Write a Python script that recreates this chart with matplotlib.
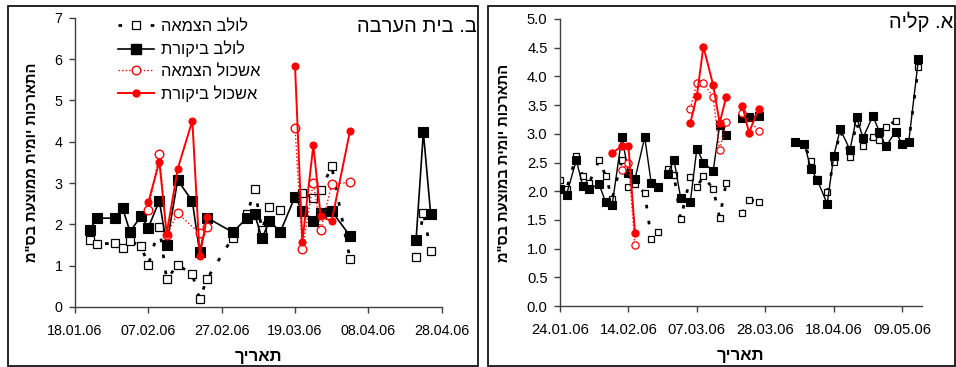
import matplotlib
matplotlib.use("Agg")
import matplotlib.pyplot as plt
import matplotlib.dates as mdates
from matplotlib.lines import Line2D
from matplotlib.patches import Rectangle
import pandas as pd

plt.rcParams['font.family'] = ['Liberation Sans', 'DejaVu Sans']

# ---------------- data: left panel (Beit HaArava) ----------------
L_lulav_dry_dates = ["2006-01-22", "2006-01-24", "2006-01-29", "2006-01-31", "2006-02-02", "2006-02-05",
                     "2006-02-07", "2006-02-10", "2006-02-12", "2006-02-15", "2006-02-19", "2006-02-21",
                     "2006-02-23", "2006-03-02", "2006-03-06", "2006-03-08", "2006-03-10", "2006-03-12",
                     "2006-03-15", "2006-03-21", "2006-03-24", "2006-03-26", "2006-03-29", "2006-04-03",
                     None, "2006-04-21", "2006-04-23", "2006-04-25"]
L_lulav_dry = [1.61, 1.53, 1.54, 1.43, 1.60, 1.47, 1.02, 1.94, 0.67, 1.02, 0.79, 0.19,
               0.68, 1.68, 2.25, 2.86, 1.86, 2.43, 2.35, 2.77, 2.63, 2.82, 3.40, 1.16,
               None, 1.22, 2.28, 1.36]

L_lulav_ctl_dates = ["2006-01-22", "2006-01-24", "2006-01-29", "2006-01-31", "2006-02-02", "2006-02-05",
                     "2006-02-07", "2006-02-10", "2006-02-12", "2006-02-15", "2006-02-19", "2006-02-21",
                     "2006-02-23", "2006-03-02", "2006-03-06", "2006-03-08", "2006-03-10", "2006-03-12",
                     "2006-03-15", "2006-03-19", "2006-03-21", "2006-03-24", "2006-03-26", "2006-03-29",
                     "2006-04-03", None, "2006-04-21", "2006-04-23", "2006-04-25"]
L_lulav_ctl = [1.86, 2.15, 2.15, 2.39, 1.82, 2.20, 1.92, 2.57, 1.50, 3.07, 2.56, 1.32,
               2.16, 1.81, 2.16, 2.24, 1.66, 2.08, 1.82, 2.67, 2.32, 2.09, 2.27, 2.32,
               1.72, None, 1.61, 4.23, 2.24]

L_ashkol_dry_dates = ["2006-02-07", "2006-02-10", "2006-02-12", "2006-02-15", "2006-02-21", "2006-02-23",
                      None, "2006-03-19", "2006-03-21", "2006-03-24", "2006-03-26", "2006-03-29", "2006-04-03"]
L_ashkol_dry = [2.35, 3.70, 1.74, 2.27, 1.78, 1.93,
                None, 4.34, 1.40, 3.01, 1.86, 2.97, 3.02]

L_ashkol_ctl_dates = ["2006-02-07", "2006-02-10", "2006-02-12", "2006-02-15", "2006-02-19", "2006-02-21",
                      "2006-02-23", None, "2006-03-19", "2006-03-21", "2006-03-24", "2006-03-26",
                      "2006-03-29", "2006-04-03"]
L_ashkol_ctl = [2.53, 3.52, 1.77, 3.34, 4.51, 1.24,
                2.17, None, 5.84, 1.58, 3.92, 2.19,
                2.08, 4.26]

L_ticks = ["2006-01-18", "2006-02-07", "2006-02-27", "2006-03-19", "2006-04-08", "2006-04-28"]

# ---------------- data: right panel (Kalia) ----------------
R_lulav_dry_dates = ["2006-01-24", "2006-01-26", "2006-01-29", "2006-01-31", "2006-02-02", "2006-02-05",
                     "2006-02-07", "2006-02-09", "2006-02-12", "2006-02-14", "2006-02-16", "2006-02-19",
                     "2006-02-21", "2006-02-23", None, "2006-02-26", "2006-02-28", "2006-03-02",
                     "2006-03-05", "2006-03-07", "2006-03-09", "2006-03-12", "2006-03-14", "2006-03-16",
                     None, "2006-03-21", "2006-03-23", "2006-03-26", None,
                     "2006-04-06", "2006-04-09", "2006-04-11", "2006-04-13", "2006-04-16", "2006-04-18",
                     "2006-04-20", "2006-04-23", "2006-04-25", "2006-04-27", "2006-04-30", "2006-05-02",
                     "2006-05-04", "2006-05-07", "2006-05-09", "2006-05-11", "2006-05-14"]
R_lulav_dry = [2.20, 2.03, 2.62, 2.26, 2.15, 2.54, 2.27, 1.87, 2.54, 2.08, 2.12, 1.97,
               1.17, 1.29, None, 2.38, 2.28, 1.51, 2.24, 2.07, 2.26, 2.04, 1.54, 2.15,
               None, 1.62, 1.85, 1.82, None,
               2.85, 2.82, 2.53, 2.22, 1.98, 2.51, 3.06, 2.60, 3.21, 2.78, 2.94, 2.89,
               3.11, 3.23, 2.82, 2.85, 4.17]

R_lulav_ctl_dates = R_lulav_dry_dates
R_lulav_ctl = [2.04, 1.94, 2.54, 2.09, 2.04, 2.12, 1.81, 1.76, 2.95, 2.32, 2.21, 2.94,
               2.14, 2.07, None, 2.30, 2.54, 1.89, 1.82, 2.74, 2.50, 2.35, 3.15, 2.98,
               None, 3.28, 3.29, 3.31, None,
               2.85, 2.82, 2.39, 2.19, 1.78, 2.61, 3.08, 2.72, 3.29, 2.93, 3.31, 3.04,
               2.78, 3.04, 2.82, 2.85, 4.30]

R_ashkol_dry_dates = ["2006-02-12", "2006-02-14", "2006-02-16", None,
                      "2006-03-05", "2006-03-07", "2006-03-09", "2006-03-12", "2006-03-14", "2006-03-16",
                      None, "2006-03-21", "2006-03-26"]
R_ashkol_dry = [2.37, 2.50, 1.06, None, 3.44, 3.88, 3.88, 3.64, 2.71, 3.20, None, 3.37, 3.05]

R_ashkol_ctl_dates = ["2006-02-09", "2006-02-12", "2006-02-14", "2006-02-16", None,
                      "2006-03-05", "2006-03-07", "2006-03-09", "2006-03-12", "2006-03-14", "2006-03-16",
                      None, "2006-03-21", "2006-03-23", "2006-03-26"]
R_ashkol_ctl = [2.66, 2.79, 2.79, 1.28, None, 3.19, 3.66, 4.52, 3.85, 3.19, 3.64, None, 3.48, 3.02, 3.44]

R_ticks = ["2006-01-24", "2006-02-14", "2006-03-07", "2006-03-28", "2006-04-18", "2006-05-09"]

# Hebrew texts (logical order)
series_names = ["לולב הצמאה", "לולב ביקורת", "אשכול הצמאה", "אשכול ביקורת"]
title_left = "ב. בית הערבה"
title_right = "א. קליה"
ylabel_left = 'התארכות יומית ממוצעת בס"מ'
ylabel_right = 'התארכות יומית במוצעת בס"מ'
xlabel = "תאריך"


def vis(s):
    # matplotlib has no bidi support: give visual (reversed) order
    return s[::-1]


def segments(dates, vals):
    segs, cd, cv = [], [], []
    for d, v in zip(dates, vals):
        if v is None or d is None:
            if cd:
                segs.append((cd, cv))
            cd, cv = [], []
        else:
            cd.append(pd.Timestamp(d))
            cv.append(v)
    if cd:
        segs.append((cd, cv))
    return segs


def draw(ax, dates, vals, line_kw, mk_kw, z):
    for d, v in segments(dates, vals):
        ax.plot(d, v, zorder=z, **line_kw)
    for d, v in segments(dates, vals):
        ax.plot(d, v, linestyle='none', zorder=z + 0.5, **mk_kw)


RED = '#FF0000'
DASH = (0, (1.3, 4.5))
DOT = (0, (1, 1.6))

fig = plt.figure(figsize=(9.56, 3.67), dpi=100)

W, H = 956, 367


def axes_px(x0, x1, ytop, ybot):
    return fig.add_axes([x0 / W, (H - ybot) / H, (x1 - x0) / W, (ybot - ytop) / H])


axL = axes_px(75, 441.7, 17.7, 307)
axR = axes_px(560, 921.7, 19, 306)

# left panel series
draw(axL, L_lulav_dry_dates, L_lulav_dry,
     dict(color='black', lw=2.0, linestyle=DASH),
     dict(marker='s', ms=5.2, mfc='white', mec='black', mew=0.9), 2)
draw(axL, L_lulav_ctl_dates, L_lulav_ctl,
     dict(color='black', lw=1.2, linestyle='-'),
     dict(marker='s', ms=7.6, mfc='black', mec='black', mew=0.8), 3)
draw(axL, L_ashkol_dry_dates, L_ashkol_dry,
     dict(color=RED, lw=1.0, linestyle=DOT),
     dict(marker='o', ms=6.2, mfc='white', mec=RED, mew=1.0), 4)
draw(axL, L_ashkol_ctl_dates, L_ashkol_ctl,
     dict(color=RED, lw=1.4, linestyle='-'),
     dict(marker='o', ms=5.0, mfc=RED, mec=RED, mew=0.8), 5)

# right panel series
draw(axR, R_lulav_dry_dates, R_lulav_dry,
     dict(color='black', lw=2.0, linestyle=DASH),
     dict(marker='s', ms=5.0, mfc='white', mec='black', mew=0.9), 2)
draw(axR, R_lulav_ctl_dates, R_lulav_ctl,
     dict(color='black', lw=1.0, linestyle='-'),
     dict(marker='s', ms=5.2, mfc='black', mec='black', mew=0.8), 3)
draw(axR, R_ashkol_dry_dates, R_ashkol_dry,
     dict(color=RED, lw=1.0, linestyle=DOT),
     dict(marker='o', ms=5.2, mfc='white', mec=RED, mew=0.9), 4)
draw(axR, R_ashkol_ctl_dates, R_ashkol_ctl,
     dict(color=RED, lw=1.4, linestyle='-'),
     dict(marker='o', ms=5.2, mfc=RED, mec=RED, mew=0.8), 5)

for ax, ticks, xmax, ylim, yticks, fmt, lsz in [
        (axL, L_ticks, "2006-04-28", 7, [0, 1, 2, 3, 4, 5, 6, 7], "{:.0f}", 10.3),
        (axR, R_ticks, "2006-05-15", 5, [0, 0.5, 1, 1.5, 2, 2.5, 3, 3.5, 4, 4.5, 5], "{:.1f}", 10.6)]:
    ax.set_xlim(pd.Timestamp(ticks[0]), pd.Timestamp(xmax))
    ax.set_ylim(0, ylim)
    ax.set_xticks([pd.Timestamp(t) for t in ticks])
    ax.xaxis.set_major_formatter(mdates.DateFormatter('%d.%m.%y'))
    ax.set_yticks(yticks)
    ax.set_yticklabels([fmt.format(v) for v in yticks])
    for s in ['top', 'right']:
        ax.spines[s].set_visible(False)
    for s in ['left', 'bottom']:
        ax.spines[s].set_color('#404040')
        ax.spines[s].set_linewidth(1.0)
    ax.tick_params(direction='out', length=4, width=1.0, color='#404040',
                   labelsize=lsz)
    ax.tick_params(axis='x', pad=8)
    ax.tick_params(axis='y', pad=5)
    ax.set_facecolor('none')

axL.set_xlabel(vis(xlabel), fontsize=12, fontweight='bold', labelpad=8)
axR.set_xlabel(vis(xlabel), fontsize=12, fontweight='bold', labelpad=8)
axL.set_ylabel(vis(ylabel_left), fontsize=10.5, fontweight='bold', labelpad=11)
axR.set_ylabel(vis(ylabel_right), fontsize=10.5, fontweight='bold', labelpad=11)

# legend (left panel)
handles = [
    Line2D([], [], color='black', lw=2.0, linestyle=DASH, marker='s', ms=5.2, mfc='white', mec='black', mew=0.9),
    Line2D([], [], color='black', lw=1.2, linestyle='-', marker='s', ms=7.6, mfc='black', mec='black'),
    Line2D([], [], color=RED, lw=1.0, linestyle=DOT, marker='o', ms=6.2, mfc='white', mec=RED),
    Line2D([], [], color=RED, lw=1.4, linestyle='-', marker='o', ms=5.0, mfc=RED, mec=RED),
]
leg = axL.legend(handles, [vis(s) for s in series_names], loc='upper left',
                 bbox_to_anchor=((118 - 75) / 366.7, 1.0 - 1.5 / 289.3), frameon=False,
                 fontsize=11.8, handlelength=2.2, handletextpad=0.45, labelspacing=0.4,
                 borderpad=0, borderaxespad=0)

# panel titles
fig.text(477 / W, 1 - 27 / H, vis(title_left), ha='right', va='center', fontsize=14.5)
fig.text(953 / W, 1 - 22 / H, vis(title_right), ha='right', va='center', fontsize=14.5)

# panel frames
fig.patches.append(Rectangle((8 / W, 1.5 / H), (478 - 8) / W, (361 - 1.5) / H, transform=fig.transFigure,
                             fill=False, edgecolor='black', lw=1.2))
fig.patches.append(Rectangle((488 / W, 1.5 / H), (955 - 488) / W, (361 - 1.5) / H, transform=fig.transFigure,
                             fill=False, edgecolor='black', lw=1.2))

fig.savefig("out.png", dpi=100)
